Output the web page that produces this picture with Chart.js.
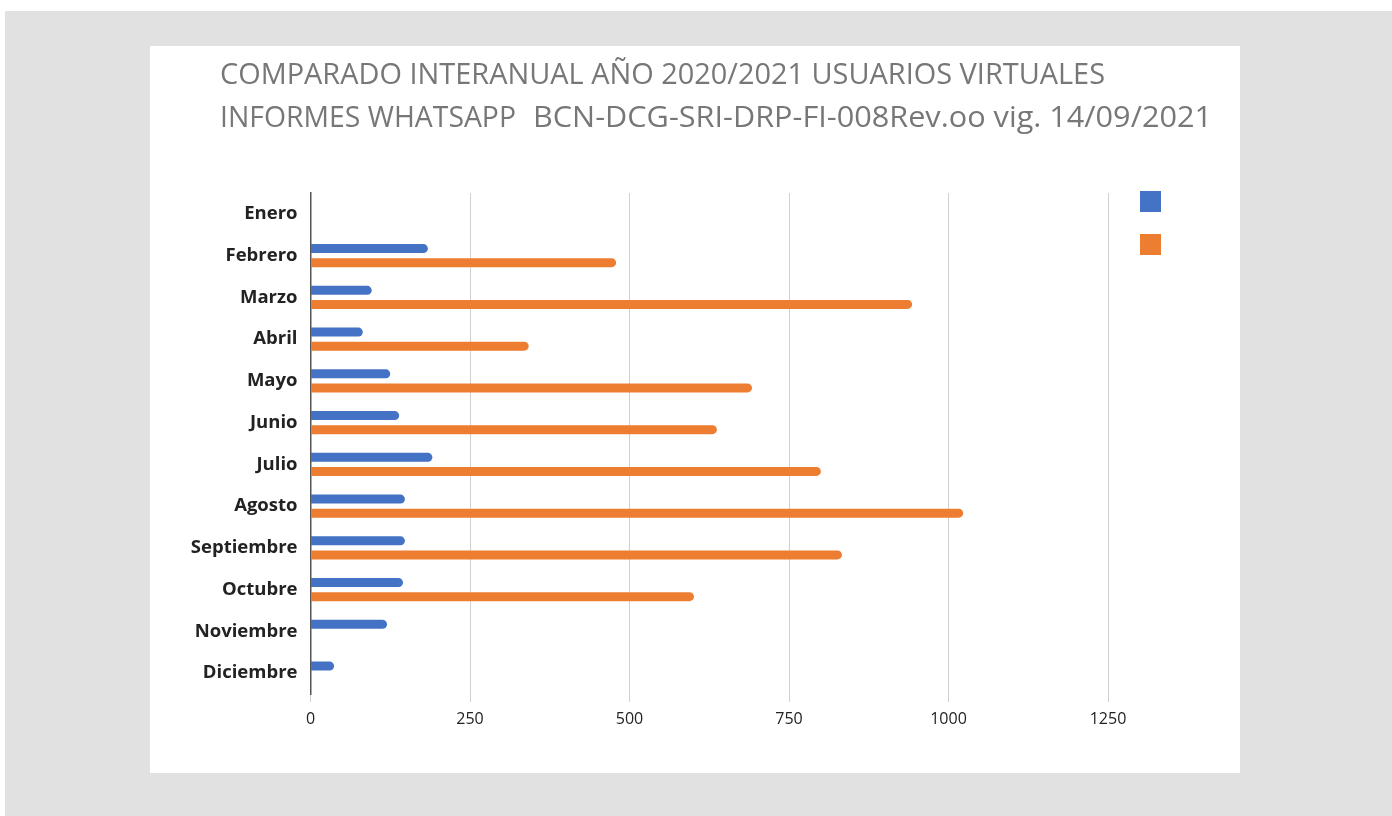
<!DOCTYPE html>
<html>
<head>
<meta charset="utf-8">
<script src="https://cdn.jsdelivr.net/npm/chart.js@4.4.1/dist/chart.umd.min.js"></script>
<style>
  html, body { margin: 0; padding: 0; background: #fff; }
  #frame { position: absolute; left: 5px; top: 11px; right: 0; bottom: 0; background: #e1e1e1; }
  #panel { position: absolute; left: 150px; top: 46px; width: 1090px; height: 727px; background: #fff; }
</style>
</head>
<body>
<div id="frame"></div>
<div id="panel"><canvas id="chart" width="1090" height="727"></canvas></div>
<script>
const months = ["Enero", "Febrero", "Marzo", "Abril", "Mayo", "Junio", "Julio", "Agosto", "Septiembre", "Octubre", "Noviembre", "Diciembre"];
const users2020 = [null, 184, 96, 82, 125, 139, 191, 148, 148, 145, 120, 37];
const users2021 = [null, 479, 943, 342, 692, 637, 800, 1023, 833, 601, null, null];
const xTicks = [0, 250, 500, 750, 1000, 1250];

const titleLine1 = "COMPARADO INTERANUAL AÑO 2020/2021 USUARIOS VIRTUALES";
const titleLine2a = "INFORMES WHATSAPP";
const titleLine2b = "BCN-DCG-SRI-DRP-FI-008Rev.oo vig. 14/09/2021";

const blue = '#4472c4';
const orange = '#ed7d31';

// draws text squeezed to a given width (the original uses a narrow font)
function fitText(ctx, text, x, y, width) {
    const w = ctx.measureText(text).width;
    ctx.save();
    ctx.translate(x, y);
    ctx.scale(width / w, 1);
    ctx.fillText(text, 0, 0);
    ctx.restore();
}

const headerPlugin = {
    id: 'header',
    afterDraw(chart) {
        const ctx = chart.ctx;
        ctx.save();
        ctx.fillStyle = '#777';
        ctx.font = '29px "Open Sans"';
        ctx.textBaseline = 'middle';
        ctx.textAlign = 'left';
        fitText(ctx, titleLine1, 70, 30, 885);
        fitText(ctx, titleLine2a, 70, 73, 296);
        fitText(ctx, titleLine2b, 383, 73, 679);

        // legend squares, no text in the original
        chart.data.datasets.forEach((ds, i) => {
            ctx.fillStyle = ds.backgroundColor;
            ctx.fillRect(990, 145 + i * 43, 21, 21);
        });
        ctx.restore();
    }
};

new Chart(document.getElementById('chart'), {
    type: 'bar',
    data: {
        labels: months,
        datasets: [
            { label: '2020', data: users2020, backgroundColor: blue, borderRadius: 5, borderSkipped: 'start' },
            { label: '2021', data: users2021, backgroundColor: orange, borderRadius: 5, borderSkipped: 'start' }
        ]
    },
    options: {
        indexAxis: 'y',
        responsive: false,
        animation: false,
        categoryPercentage: 0.672,
        barPercentage: 0.64,
        layout: { padding: { top: 147, right: 132, left: 0, bottom: 0 } },
        plugins: {
            legend: { display: false },
            title: { display: false },
            tooltip: { enabled: false }
        },
        scales: {
            x: {
                min: 0,
                max: 1250,
                afterBuildTicks: (scale) => { scale.ticks = xTicks.map(v => ({ value: v })); },
                afterFit: (scale) => { scale.height = 79; },
                grid: { color: '#d0d0d0', lineWidth: 1, tickLength: 8, drawTicks: true },
                border: { display: false },
                ticks: {
                    color: '#222',
                    padding: 8,
                    callback: (v) => String(v),
                    font: { family: '"Open Sans"', size: 16 }
                }
            },
            y: {
                afterFit: (scale) => { scale.width = 160.5; },
                grid: { display: false, drawTicks: false },
                border: { display: true, color: '#555', width: 1.5 },
                ticks: {
                    color: '#222',
                    padding: 13,
                    font: { family: '"Open Sans"', size: 18.5, weight: 'bold' }
                }
            }
        }
    },
    plugins: [headerPlugin]
});
</script>
</body>
</html>
